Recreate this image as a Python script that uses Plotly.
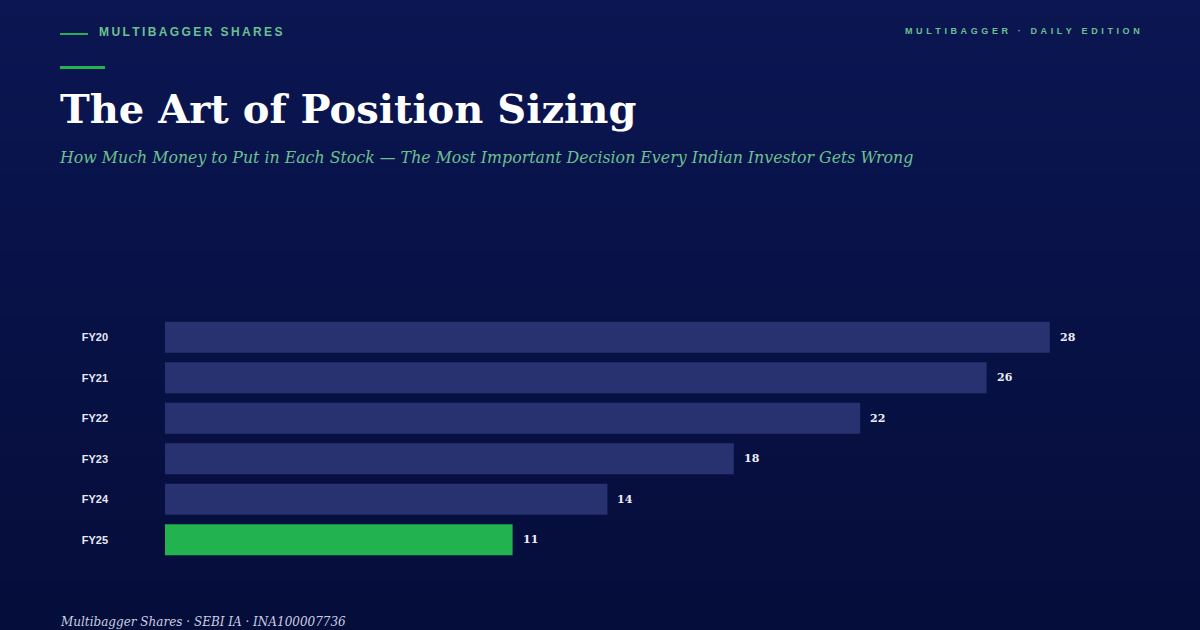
import plotly.graph_objs as go

# chart data
years = ['FY20', 'FY21', 'FY22', 'FY23', 'FY24', 'FY25']
positions = [28, 26, 22, 18, 14, 11]
highlight = 'FY25'

BAR_NAVY = '#283270'
BAR_GREEN = '#22b24f'
ACCENT = '#6cc08f'
SERIF = "Georgia, 'DejaVu Serif', serif"
SANS = "Arial, 'Liberation Sans', sans-serif"


def spaced(s, sep='\u2009'):
    # fake letter-spacing, plotly has no letterspacing option
    return sep.join(list(s))


colors = [BAR_GREEN if y == highlight else BAR_NAVY for y in years]

fig = go.Figure(go.Bar(
    x=positions,
    y=years,
    orientation='h',
    marker=dict(color=colors, line=dict(width=0)),
    hoverinfo='skip',
))

# value labels at bar ends
for y, v in zip(years, positions):
    fig.add_annotation(x=v, y=y, text='<b>%d</b>' % v, showarrow=False,
                       xanchor='left', xshift=8,
                       font=dict(family=SERIF, size=11, color='#eceef6'))

# page geometry
W, H = 1200, 630
L, R, T, B = 165, 87, 317, 70
pw, ph = W - L - R, H - T - B


def px(x):
    return (x - L) / pw


def py(y):
    return (H - B - y) / ph


# background gradient, top to bottom
top = (11, 22, 82)
bot = (5, 13, 58)
n = 40
for i in range(n):
    t = i / (n - 1)
    c = tuple(round(top[k] + (bot[k] - top[k]) * t) for k in range(3))
    fig.add_shape(type='rect', xref='paper', yref='paper',
                  x0=px(-10), x1=px(W + 10),
                  y0=py((i + 1) * H / n + 1), y1=py(i * H / n - (10 if i == 0 else 0)),
                  fillcolor='rgb(%d,%d,%d)' % c, line=dict(width=0), layer='below')

# header decorations
fig.add_shape(type='line', xref='paper', yref='paper', x0=px(60), x1=px(88),
              y0=py(34), y1=py(34), line=dict(color=BAR_GREEN, width=2))
fig.add_shape(type='line', xref='paper', yref='paper', x0=px(60), x1=px(105),
              y0=py(67.5), y1=py(67.5), line=dict(color=BAR_GREEN, width=3))

fig.add_annotation(xref='paper', yref='paper', x=px(97), y=py(32), xanchor='left',
                   yanchor='middle', showarrow=False,
                   text='<b>' + spaced('MULTIBAGGER SHARES') + '</b>',
                   font=dict(family=SANS, size=12, color=ACCENT))
fig.add_annotation(xref='paper', yref='paper', x=px(1142), y=py(31), xanchor='right',
                   yanchor='middle', showarrow=False,
                   text='<b>' + spaced('MULTIBAGGER · DAILY EDITION', '\u2009\u2009') + '</b>',
                   font=dict(family=SANS, size=9, color=ACCENT))
fig.add_annotation(xref='paper', yref='paper', x=px(58), y=py(108), xanchor='left',
                   yanchor='middle', showarrow=False,
                   text='<b>The Art of Position Sizing</b>',
                   font=dict(family=SERIF, size=40, color='#ffffff'))
fig.add_annotation(xref='paper', yref='paper', x=px(57), y=py(157), xanchor='left',
                   yanchor='middle', showarrow=False,
                   text='<i>How Much Money to Put in Each Stock — The Most Important Decision Every Indian Investor Gets Wrong</i>',
                   font=dict(family=SERIF, size=15.8, color=ACCENT))
fig.add_annotation(xref='paper', yref='paper', x=px(58), y=py(622), xanchor='left',
                   yanchor='middle', showarrow=False,
                   text='<i>Multibagger Shares · SEBI IA · INA100007736</i>',
                   font=dict(family=SERIF, size=12, color='#c9cde2'))

fig.update_layout(
    width=W, height=H,
    margin=dict(l=L, r=R, t=T, b=B),
    paper_bgcolor='#08124a',
    plot_bgcolor='rgba(0,0,0,0)',
    bargap=0.235,
    showlegend=False,
    xaxis=dict(range=[0, 30], visible=False, fixedrange=True),
    yaxis=dict(autorange='reversed', showgrid=False, zeroline=False, showline=False,
               ticks='', ticklabelstandoff=56,
               tickfont=dict(family=SANS, size=11, color='#e6e9f4', weight='bold'),
               fixedrange=True),
)

fig.write_html("out.html", config={'displayModeBar': False},
               post_script="document.body.style.margin='0';")
